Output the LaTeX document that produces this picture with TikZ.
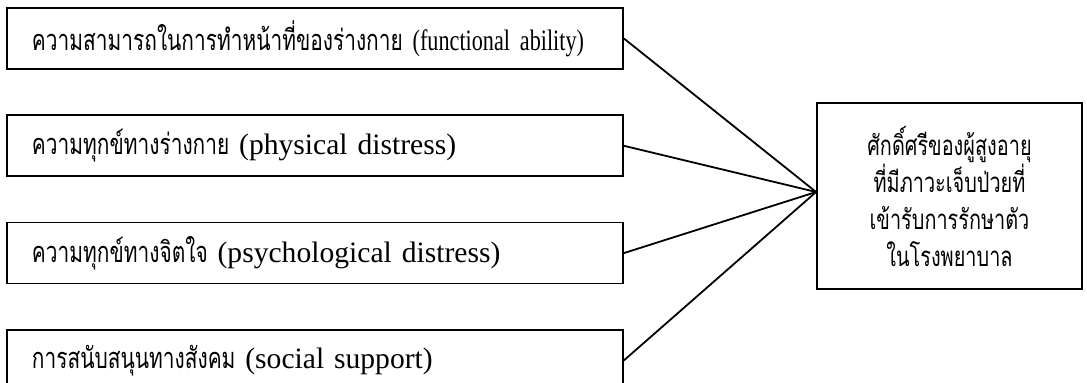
\documentclass[tikz,border=0pt]{standalone}
\usepackage{fontspec}
\setmainfont{Liberation Serif}
\newfontfamily\thaifont[Script=Thai, FakeStretch=0.72]{Loma}
\newfontfamily\narrowserif[FakeStretch=0.75]{Liberation Serif}
\usetikzlibrary{positioning}

\begin{document}
\begin{tikzpicture}[
    factor/.style={rectangle, draw=black, line width=0.9pt,
                   minimum width=308pt, minimum height=30.5pt, inner ysep=2pt,
                   text width=283pt, align=left, font=\fontsize{14.8}{18}\selectfont},
    outcome/.style={rectangle, draw=black, line width=0.9pt,
                    minimum width=132.5pt, minimum height=93pt,
                    align=center, font=\thaifont\fontsize{13.8}{18.5}\selectfont},
    link/.style={line width=0.9pt},
    node distance=22.25pt,
]
\useasboundingbox (0,0) rectangle (543.5pt,-191.5pt);

\node[factor] (f1) at (157.5pt,-19.25pt) {{\thaifont\fontsize{14.5}{18}\selectfont ความสามารถในการทำหน้าที่ของร่างกาย} {\narrowserif(functional ability)}};
\node[factor, below=of f1] (f2) {{\thaifont\fontsize{14.5}{18}\selectfont ความทุกข์ทางร่างกาย} (physical distress)};
\node[factor, below=of f2] (f3) {{\thaifont\fontsize{14.5}{18}\selectfont ความทุกข์ทางจิตใจ} (psychological distress)};
\node[factor, below=of f3] (f4) {{\thaifont\fontsize{14.5}{18}\selectfont การสนับสนุนทางสังคม} (social support)};
\node[outcome] (res) at (474.75pt,-98pt) {ศักดิ์ศรีของผู้สูงอายุ\\ที่มีภาวะเจ็บป่วยที่\\เข้ารับการรักษาตัว\\ในโรงพยาบาล};

\coordinate (hub) at ([yshift=2pt]res.west);
\draw[link] (f1.east) -- (hub);
\draw[link] (f2.east) -- (hub);
\draw[link] (f3.east) -- (hub);
\draw[link] (f4.east) -- (hub);

\end{tikzpicture}
\end{document}
